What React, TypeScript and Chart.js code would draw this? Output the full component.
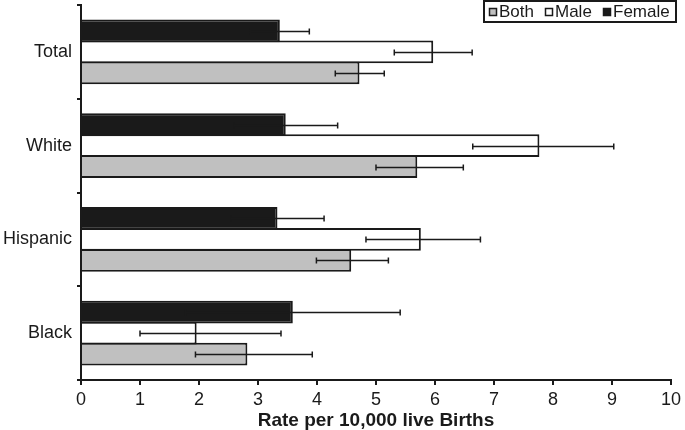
import React, { useEffect, useRef } from "react";
import { Chart, registerables } from "chart.js";

Chart.register(...registerables);

const categories = ["Total", "White", "Hispanic", "Black"];

const femaleValues = [3.37, 3.47, 3.33, 3.59];
const femaleLow = [2.87, 2.59, 2.54, 1.77];
const femaleHigh = [3.87, 4.35, 4.12, 5.41];

const maleValues = [5.97, 7.77, 5.76, 1.96];
const maleLow = [5.31, 6.64, 4.83, 1.0];
const maleHigh = [6.63, 9.03, 6.77, 3.39];

const bothValues = [4.72, 5.7, 4.58, 2.82];
const bothLow = [4.31, 5.0, 3.99, 1.94];
const bothHigh = [5.14, 6.48, 5.21, 3.92];

const xTicks = [0, 1, 2, 3, 4, 5, 6, 7, 8, 9, 10];
const xTitle = "Rate per 10,000 live Births";

const legendItems = [
  { label: "Both", color: "#c0c0c0" },
  { label: "Male", color: "#ffffff" },
  { label: "Female", color: "#1a1a1a" },
];

const FONT = "'Liberation Sans', Arial, Helvetica, sans-serif";
const INK = "#1a1a1a";

const errorBarsPlugin = {
  id: "errorBars",
  afterDatasetsDraw(chart: any) {
    const ctx = chart.ctx;
    const xs = chart.scales.x;
    chart.data.datasets.forEach((ds: any, di: number) => {
      const meta = chart.getDatasetMeta(di);
      meta.data.forEach((el: any, i: number) => {
        const lo = xs.getPixelForValue(ds.errLow[i]);
        const hi = xs.getPixelForValue(ds.errHigh[i]);
        const y = Math.round(el.y) + 0.5;
        ctx.save();
        ctx.strokeStyle = INK;
        ctx.lineWidth = 1.5;
        ctx.beginPath();
        ctx.moveTo(lo, y);
        ctx.lineTo(hi, y);
        ctx.moveTo(lo, y - 3);
        ctx.lineTo(lo, y + 3);
        ctx.moveTo(hi, y - 3);
        ctx.lineTo(hi, y + 3);
        ctx.stroke();
        ctx.restore();
      });
    });
  },
};

const boxLegendPlugin = {
  id: "boxLegend",
  afterDraw(chart: any) {
    const ctx = chart.ctx;
    const area = chart.chartArea;
    const right = Math.round(area.right) + 5;
    const left = right - 192;
    const top = 1;
    const h = 21;
    ctx.save();
    ctx.fillStyle = "#fff";
    ctx.fillRect(left, top, right - left, h);
    ctx.strokeStyle = INK;
    ctx.lineWidth = 2;
    ctx.strokeRect(left, top, right - left, h);
    ctx.font = `17px ${FONT}`;
    ctx.textBaseline = "middle";
    ctx.textAlign = "left";
    let x = left + 5;
    const cy = top + h / 2;
    legendItems.forEach((it) => {
      const sx = Math.round(x);
      const sy = Math.round(cy) - 4;
      ctx.fillStyle = it.color;
      ctx.fillRect(sx, sy, 8, 8);
      ctx.strokeStyle = INK;
      ctx.lineWidth = 1.5;
      ctx.strokeRect(sx + 0.5, sy + 0.5, 7, 7);
      ctx.fillStyle = INK;
      ctx.fillText(it.label, sx + 10, cy + 1);
      x += 10 + ctx.measureText(it.label).width + 11;
    });
    ctx.restore();
  },
};

export default function App() {
  const ref = useRef<HTMLCanvasElement | null>(null);

  useEffect(() => {
    if (!ref.current) return;
    const common = {
      borderColor: INK,
      borderWidth: 2,
      borderSkipped: "start",
      categoryPercentage: 0.67,
      barPercentage: 1.09,
    };
    const chart = new Chart(ref.current, {
      type: "bar",
      data: {
        labels: categories,
        datasets: [
          { label: "Female", data: femaleValues, backgroundColor: "#1a1a1a", errLow: femaleLow, errHigh: femaleHigh, ...common } as any,
          { label: "Male", data: maleValues, backgroundColor: "#ffffff", errLow: maleLow, errHigh: maleHigh, ...common } as any,
          { label: "Both", data: bothValues, backgroundColor: "#c0c0c0", errLow: bothLow, errHigh: bothHigh, ...common } as any,
        ],
      },
      options: {
        indexAxis: "y",
        responsive: false,
        animation: false,
        devicePixelRatio: 1,
        layout: { padding: { left: 0, right: 11, top: 5, bottom: 0 } },
        plugins: {
          legend: { display: false },
          tooltip: { enabled: false },
        },
        scales: {
          x: {
            type: "linear",
            min: 0,
            max: 10,
            afterBuildTicks: (s: any) => {
              s.ticks = xTicks.map((v) => ({ value: v }));
            },
            afterFit: (s: any) => {
              s.height = 50;
            },
            grid: {
              drawOnChartArea: false,
              drawTicks: true,
              tickLength: 5,
              color: INK,
              lineWidth: 2,
            },
            border: { display: true, color: INK, width: 2 },
            ticks: {
              color: INK,
              padding: 4,
              font: { family: FONT, size: 18 },
            },
            title: {
              display: true,
              text: xTitle,
              color: INK,
              padding: { top: 0, bottom: -2 },
              font: { family: FONT, size: 19, weight: "bold" },
            },
          },
          y: {
            type: "category",
            offset: true,
            z: 1,
            afterFit: (s: any) => {
              s.width = 81;
              s.paddingTop = 0;
              s.paddingBottom = 0;
            },
            grid: {
              offset: true,
              drawOnChartArea: false,
              drawTicks: true,
              tickLength: 4,
              color: INK,
              lineWidth: 2,
            },
            border: { display: true, color: INK, width: 2 },
            ticks: {
              color: INK,
              padding: 5,
              font: { family: FONT, size: 18 },
            },
          },
        },
      } as any,
      plugins: [errorBarsPlugin, boxLegendPlugin],
    });
    return () => chart.destroy();
  }, []);

  return (
    <div style={{ position: "fixed", left: 0, top: 0, width: 685, height: 430, background: "#fff" }}>
      <canvas ref={ref} width={685} height={430} style={{ display: "block", width: 685, height: 430 }} />
    </div>
  );
}
